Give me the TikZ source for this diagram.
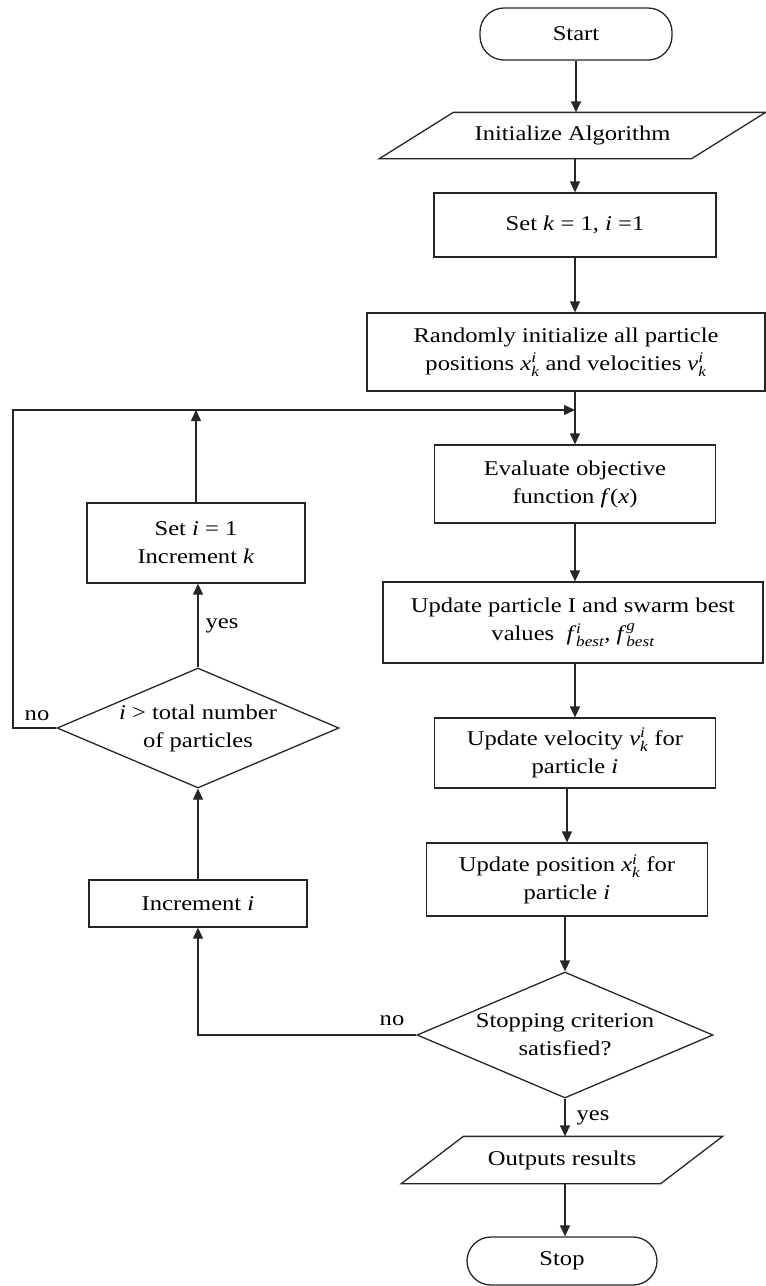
\documentclass[tikz,border=0pt]{standalone}
\usepackage{amsmath}
\usepackage{fontspec}
\setmainfont{Liberation Serif}[FakeStretch=1.17]
\usetikzlibrary{arrows.meta,shapes.geometric,calc}
\newcommand{\vv}[1]{\textit{#1}}
\newcommand{\svar}[3]{\textit{#1}$^{\textit{#2}}_{\textit{#3}}$}
\tikzset{
  base/.style={draw=black!85, line width=1.3pt, font=\fontsize{21}{28}\selectfont, align=center, inner sep=2pt},
  proc/.style={base, rectangle},
  term/.style={base, rectangle, rounded corners=24pt},
  dec/.style={base, diamond, aspect=2.35, inner sep=0pt},
  io/.style={base, draw=none},
  lab/.style={font=\fontsize{21}{24}\selectfont, inner sep=0pt},
  conn/.style={draw=black!85, line width=1.3pt, -{Triangle[length=11pt,width=10pt]}},
  plain/.style={draw=black!85, line width=1.3pt}
}
\begin{document}
\begin{tikzpicture}[x=1pt,y=-1pt]
\useasboundingbox (0,0) rectangle (766,1286);
% main column
\node[term, minimum width=192pt, minimum height=52pt] (start) at (576,34) {Start};
\node[io, minimum width=311pt, minimum height=45pt] (init) at (572.5,135.5) {Initialize Algorithm};
\draw[plain] ([xshift=37pt]init.north west) -- ([xshift=37pt]init.north east) -- ([xshift=-37pt]init.south east) -- ([xshift=-37pt]init.south west) -- cycle;
\node[proc, minimum width=282pt, minimum height=64pt] (setk) at (575,225) {Set \vv{k} = 1, \vv{i} =1};
\node[proc, minimum width=398pt, minimum height=78pt] (rand) at (566,352) {Randomly initialize all particle\\positions \svar{x}{i}{k} and velocities \svar{v}{i}{k}};
\node[proc, minimum width=281pt, minimum height=78pt] (eval) at (575,484) {Evaluate objective\\function \vv{f}(\vv{x})};
\node[proc, minimum width=380pt, minimum height=81pt] (upd) at (573,622.5) {Update particle I and swarm best\\values\ \ \svar{f}{i}{best}, \svar{f}{g}{best}};
\node[proc, minimum width=281pt, minimum height=70pt] (vel) at (575,753) {Update velocity \svar{v}{i}{k} for\\particle \vv{i}};
\node[proc, minimum width=281pt, minimum height=73pt] (pos) at (567,879.5) {Update position \svar{x}{i}{k} for\\particle \vv{i}};
\node[dec, minimum width=296pt, minimum height=126pt] (stopc) at (565,1035) {Stopping criterion\\satisfied?};
\node[io, minimum width=258pt, minimum height=46pt] (out) at (562,1160) {Outputs results};
\draw[plain] ([xshift=31pt]out.north west) -- ([xshift=31pt]out.north east) -- ([xshift=-31pt]out.south east) -- ([xshift=-31pt]out.south west) -- cycle;
\node[term, minimum width=190pt, minimum height=48pt] (stop) at (562,1261) {Stop};
% left column
\node[dec, minimum width=282pt, minimum height=120pt] (cmp) at (198,728) {\vv{i} > total number\\of particles};
\node[proc, minimum width=218pt, minimum height=80pt] (seti) at (196,543) {Set \vv{i} = 1\\Increment \vv{k}};
\node[proc, minimum width=218pt, minimum height=47pt] (inci) at (198,903.5) {Increment \vv{i}};
% helper coordinates
\coordinate (join) at (575,410);
\coordinate (fbcorner) at (13,410);
\coordinate (cmpL) at (13,728);
% connectors
\draw[conn] (start.south) -- (start.south |- init.north);
\draw[conn] (init.south -| setk.north) -- (setk.north);
\draw[conn] (setk.south) -- (setk.south |- rand.north);
\draw[conn] (rand.south -| eval.north) -- (eval.north);
\draw[conn] (eval.south) -- (eval.south |- upd.north);
\draw[conn] (upd.south -| eval.south) -- (eval.south |- vel.north);
\draw[conn] (vel.south -| pos.north) -- (pos.north);
\draw[conn] (pos.south -| stopc.north) -- (stopc.north);
\draw[conn] (stopc.south) -- (stopc.south |- out.north) node[lab, midway, right=11pt] (yes2) {yes};
\draw[conn] (out.south -| stopc.south) -- (stopc.south |- stop.north);
\draw[conn] (stopc.west) -- (stopc.west -| inci.south) -- (inci.south);
\node[lab] (no2) at (392,1021) {no};
\draw[conn] (inci.north) -- (inci.north |- cmp.south);
\draw[conn] (cmp.north) -- (cmp.north |- seti.south) node[lab, midway, right=7pt] (yes1) {yes};
\draw[conn] (seti.north) -- (seti.north |- join);
\draw[conn] (cmp.west) -- (cmpL) -- (fbcorner) -- (join);
\node[lab] (no1) at (37,716) {no};
\end{tikzpicture}
\end{document}
